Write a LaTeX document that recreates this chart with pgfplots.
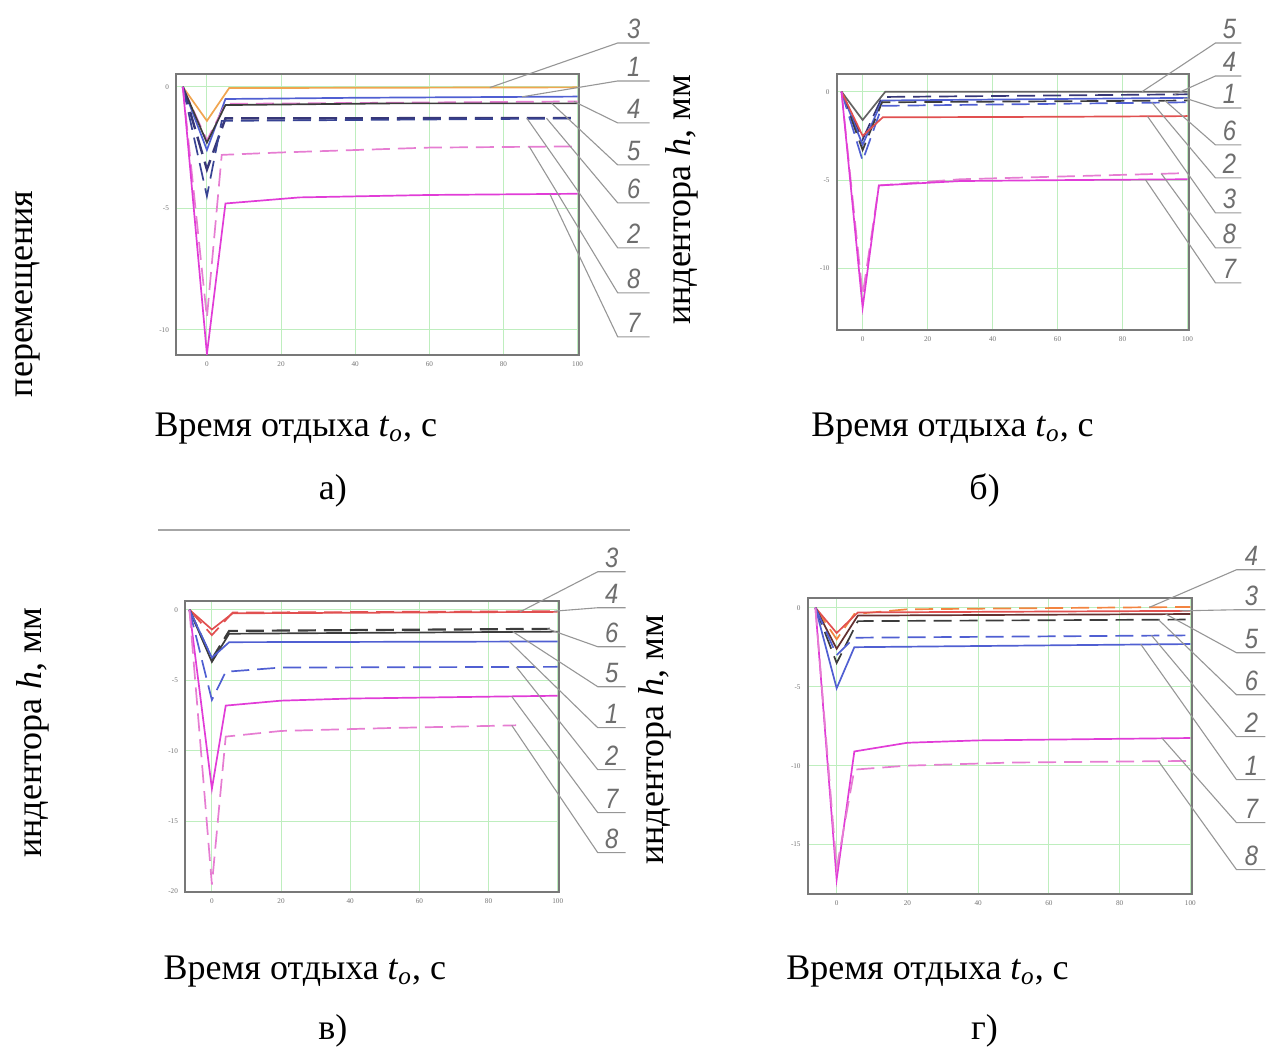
\documentclass[border=0pt]{standalone}
\usepackage{fontspec}
\setmainfont{Liberation Serif}
\newfontfamily\gost{Liberation Sans}
\usepackage{pgfplots}
\pgfplotsset{compat=1.18}
\definecolor{gridg}{RGB}{190,238,190}
\definecolor{frameC}{RGB}{120,120,120}
\definecolor{leadC}{RGB}{150,150,150}
\definecolor{labC}{RGB}{110,110,110}
\definecolor{orC}{RGB}{240,165,80}
\definecolor{redC}{RGB}{225,80,80}
\definecolor{blkC}{RGB}{60,60,60}
\definecolor{navC}{RGB}{55,55,120}
\definecolor{bluC}{RGB}{80,95,210}
\definecolor{pinkC}{RGB}{230,125,210}
\definecolor{magC}{RGB}{225,60,215}
\tikzset{
 dsh/.style={dash pattern=on 9pt off 4pt},
 leader/.style={draw=leadC, line width=0.55pt},
 lab/.style={text=labC, font=\gost\itshape\fontsize{14}{14}\selectfont, anchor=base, inner sep=0pt, xscale=0.85},
}
\pgfplotsset{panel/.style={
 scale only axis, anchor=south west, no markers,
 axis line style={draw=frameC, line width=1pt},
 grid=major, major grid style={draw=gridg, line width=0.5pt},
 tick style={draw=none},
 ticklabel style={font=\fontsize{3.6}{4}\selectfont, text=black!55},
 /pgf/number format/assume math mode=true,
 xtick={0,20,40,60,80,100},
 every axis plot/.append style={line width=0.85pt},
}}
\begin{document}
\begin{tikzpicture}
\begin{scope}[x=0.5pt,y=-0.5pt]
\path[use as bounding box] (0,0) rectangle (1266,1050);
\end{scope}

% ---------- panel a ----------
\begin{axis}[panel, at={(88pt,-177.5pt)}, width=201.5pt, height=140.5pt,
 xmin=-8.36, xmax=100.3, ymin=-11.03, ymax=0.53, ytick={0,-5,-10}]
\addplot[orC] coordinates {(-6.5,0) (0,-1.4) (6,-0.05) (100,-0.02)};
\addplot[bluC] coordinates {(-6.5,0) (0,-2.6) (5,-0.5) (40,-0.45) (100,-0.4)};
\addplot[pinkC,dsh] coordinates {(-6.5,0) (0,-2.2) (5,-0.7) (100,-0.6)};
\addplot[blkC] coordinates {(-6.5,0) (0,-2.3) (5,-0.75) (50,-0.68) (100,-0.68)};
\addplot[navC,dsh,line width=1.2pt] coordinates {(-6.5,0) (0,-3.4) (5,-1.3) (100,-1.28)};
\addplot[bluC!70!black,dsh] coordinates {(-6.5,0) (0,-4.5) (4,-1.4) (100,-1.3)};
\addplot[pinkC,dsh] coordinates {(-6.5,0) (0,-9.5) (4,-2.8) (20,-2.7) (60,-2.5) (100,-2.45)};
\addplot[magC] coordinates {(-6.5,0) (0,-11) (5,-4.8) (25,-4.55) (60,-4.45) (100,-4.4)};
\coordinate (a3) at (axis cs:76.3,-0.03);
\coordinate (a1) at (axis cs:85,-0.41);
\coordinate (a4) at (axis cs:99,-0.6);
\coordinate (a5) at (axis cs:93,-0.68);
\coordinate (a6) at (axis cs:91.6,-1.29);
\coordinate (a2) at (axis cs:86.3,-1.29);
\coordinate (a8) at (axis cs:87,-2.47);
\coordinate (a7) at (axis cs:92.5,-4.41);
\end{axis}

% ---------- panel b ----------
\begin{axis}[panel, at={(418.5pt,-165pt)}, width=176.5pt, height=128pt,
 xmin=-8, xmax=100.6, ymin=-13.46, ymax=1.0, ytick={0,-5,-10}]
\addplot[blkC!80] coordinates {(-6.5,0) (0,-1.6) (7,0) (100,0)};
\addplot[navC,dsh] coordinates {(-6.5,0) (0,-2.7) (6,-0.3) (100,-0.15)};
\addplot[bluC] coordinates {(-6.5,0) (0,-3.0) (6,-0.5) (100,-0.35)};
\addplot[blkC,dsh] coordinates {(-6.5,0) (0,-3.3) (6,-0.6) (100,-0.5)};
\addplot[bluC,dsh] coordinates {(-6.5,0) (0,-3.9) (6,-0.8) (100,-0.6)};
\addplot[redC] coordinates {(-6.5,0) (0,-2.5) (6.2,-1.45) (60,-1.42) (100,-1.38)};
\addplot[pinkC,dsh] coordinates {(-6.5,0) (0,-11.5) (5,-5.3) (30,-4.95) (60,-4.8) (100,-4.6)};
\addplot[magC] coordinates {(-6.5,0) (0,-12.2) (5,-5.3) (30,-5.05) (60,-5.0) (100,-4.95)};
\coordinate (b5) at (axis cs:86,0);
\coordinate (b4) at (axis cs:96,-0.16);
\coordinate (b1) at (axis cs:99,-0.35);
\coordinate (b6) at (axis cs:93,-0.5);
\coordinate (b2) at (axis cs:89,-0.6);
\coordinate (b3) at (axis cs:87.7,-1.4);
\coordinate (b8) at (axis cs:92,-4.65);
\coordinate (b7) at (axis cs:87,-4.96);
\end{axis}

% ---------- panel v ----------
\begin{axis}[panel, at={(92.5pt,-446pt)}, width=187pt, height=145.5pt,
 xmin=-7.8, xmax=100.3, ymin=-20, ymax=0.64, ytick={0,-5,-10,-15,-20}]
\addplot[redC] coordinates {(-6.5,0) (0,-1.4) (6,-0.25) (100,-0.15)};
\addplot[redC,dsh] coordinates {(-6.5,0) (0,-1.8) (6,-0.2) (100,-0.1)};
\addplot[blkC,dsh,line width=1.1pt] coordinates {(-6.5,0) (0,-3.5) (5,-1.5) (100,-1.35)};
\addplot[blkC] coordinates {(-6.5,0) (0,-3.7) (5,-1.7) (100,-1.55)};
\addplot[bluC] coordinates {(-6.5,0) (0,-3.4) (5,-2.3) (100,-2.25)};
\addplot[bluC,dsh] coordinates {(-6.5,0) (0,-6.4) (4,-4.4) (20,-4.1) (100,-4.05)};
\addplot[magC] coordinates {(-6.5,0) (0,-12.7) (4,-6.8) (20,-6.45) (40,-6.3) (100,-6.1)};
\addplot[pinkC,dsh] coordinates {(-6.5,0) (0,-19.5) (4,-9.0) (20,-8.6) (50,-8.4) (88,-8.2)};
\coordinate (v3) at (axis cs:89,-0.16);
\coordinate (v4) at (axis cs:99,-0.1);
\coordinate (v6) at (axis cs:97,-1.35);
\coordinate (v5) at (axis cs:87,-1.55);
\coordinate (v1) at (axis cs:86,-2.25);
\coordinate (v2) at (axis cs:88,-4.05);
\coordinate (v7) at (axis cs:86.7,-6.15);
\coordinate (v8) at (axis cs:86.7,-8.2);
\end{axis}

% ---------- panel g ----------
\begin{axis}[panel, at={(404pt,-447pt)}, width=192.5pt, height=148pt,
 xmin=-8.2, xmax=100.6, ymin=-18.1, ymax=0.63, ytick={0,-5,-10,-15}]
\addplot[orC!80!red,dsh] coordinates {(-6,0) (0,-2.0) (5,-0.4) (20,-0.1) (100,0.05)};
\addplot[redC] coordinates {(-6,0) (0,-1.6) (6,-0.3) (100,-0.2)};
\addplot[blkC!80!red] coordinates {(-6,0) (0,-2.6) (6,-0.5) (100,-0.4)};
\addplot[blkC,dsh] coordinates {(-6,0) (0,-3.5) (6,-0.85) (100,-0.75)};
\addplot[bluC,dsh] coordinates {(-6,0) (0,-3.0) (5,-1.9) (100,-1.75)};
\addplot[bluC] coordinates {(-6,0) (0,-5.1) (5,-2.5) (100,-2.3)};
\addplot[magC] coordinates {(-6,0) (0,-17.2) (5,-9.1) (20,-8.55) (40,-8.4) (100,-8.25)};
\addplot[pinkC,dsh] coordinates {(-6,0) (0,-16.5) (5,-10.25) (20,-10.0) (50,-9.8) (100,-9.7)};
\coordinate (g4) at (axis cs:88.4,0.02);
\coordinate (g3) at (axis cs:97,-0.2);
\coordinate (g5) at (axis cs:93,-0.4);
\coordinate (g6) at (axis cs:91,-0.76);
\coordinate (g2) at (axis cs:89,-1.75);
\coordinate (g1) at (axis cs:86,-2.32);
\coordinate (g7) at (axis cs:92,-8.26);
\coordinate (g8) at (axis cs:91,-9.72);
\end{axis}

\begin{scope}[x=0.5pt,y=-0.5pt]
% separator
\draw[draw=black!35, line width=0.8pt] (158,530) -- (630,530);
% leaders a
\foreach \n/\u in {3/43,1/81,4/123,5/165,6/203,2/248,8/293,7/337}{
  \draw[leader] (a\n) -- (618,\u) -- (650,\u);
  \node[lab] at (634,\u-4) {\n};
}
% leaders b
\foreach \n/\u in {5/43,4/76,1/108,6/145,2/178,3/213,8/248,7/283}{
  \draw[leader] (b\n) -- (1216,\u) -- (1242,\u);
  \node[lab] at (1230,\u-4) {\n};
}
% leaders v
\foreach \n/\u in {3/572,4/608,6/647,5/687,1/728,2/770,7/813,8/853}{
  \draw[leader] (v\n) -- (598,\u) -- (626,\u);
  \node[lab] at (612,\u-4) {\n};
}
% leaders g
\foreach \n/\u in {4/570,3/610,5/653,6/695,2/737,1/780,7/823,8/870}{
  \draw[leader] (g\n) -- (1237,\u) -- (1266,\u);
  \node[lab] at (1252,\u-4) {\n};
}
% texts
\tikzset{tx/.style={font=\fontsize{18}{18}\selectfont, inner sep=0pt}}
\node[tx, anchor=base] at (296,437) {Время отдыха \textit{t}\textsubscript{\textit{o}}, с};
\node[tx, anchor=base] at (953,437) {Время отдыха \textit{t}\textsubscript{\textit{o}}, с};
\node[tx, anchor=base] at (305,980) {Время отдыха \textit{t}\textsubscript{\textit{o}}, с};
\node[tx, anchor=base] at (928,980) {Время отдыха \textit{t}\textsubscript{\textit{o}}, с};
\node[tx, anchor=base] at (333,500) {а)};
\node[tx, anchor=base] at (985,500) {б)};
\node[tx, anchor=base] at (333,1040) {в)};
\node[tx, anchor=base] at (985,1040) {г)};
\node[tx, rotate=90] at (28,294) {перемещения};
\node[tx, rotate=90] at (682,200) {индентора \textit{h}, мм};
\node[tx, rotate=90] at (33,733) {индентора \textit{h}, мм};
\node[tx, rotate=90] at (655,740) {индентора \textit{h}, мм};
\end{scope}
\end{tikzpicture}
\end{document}
